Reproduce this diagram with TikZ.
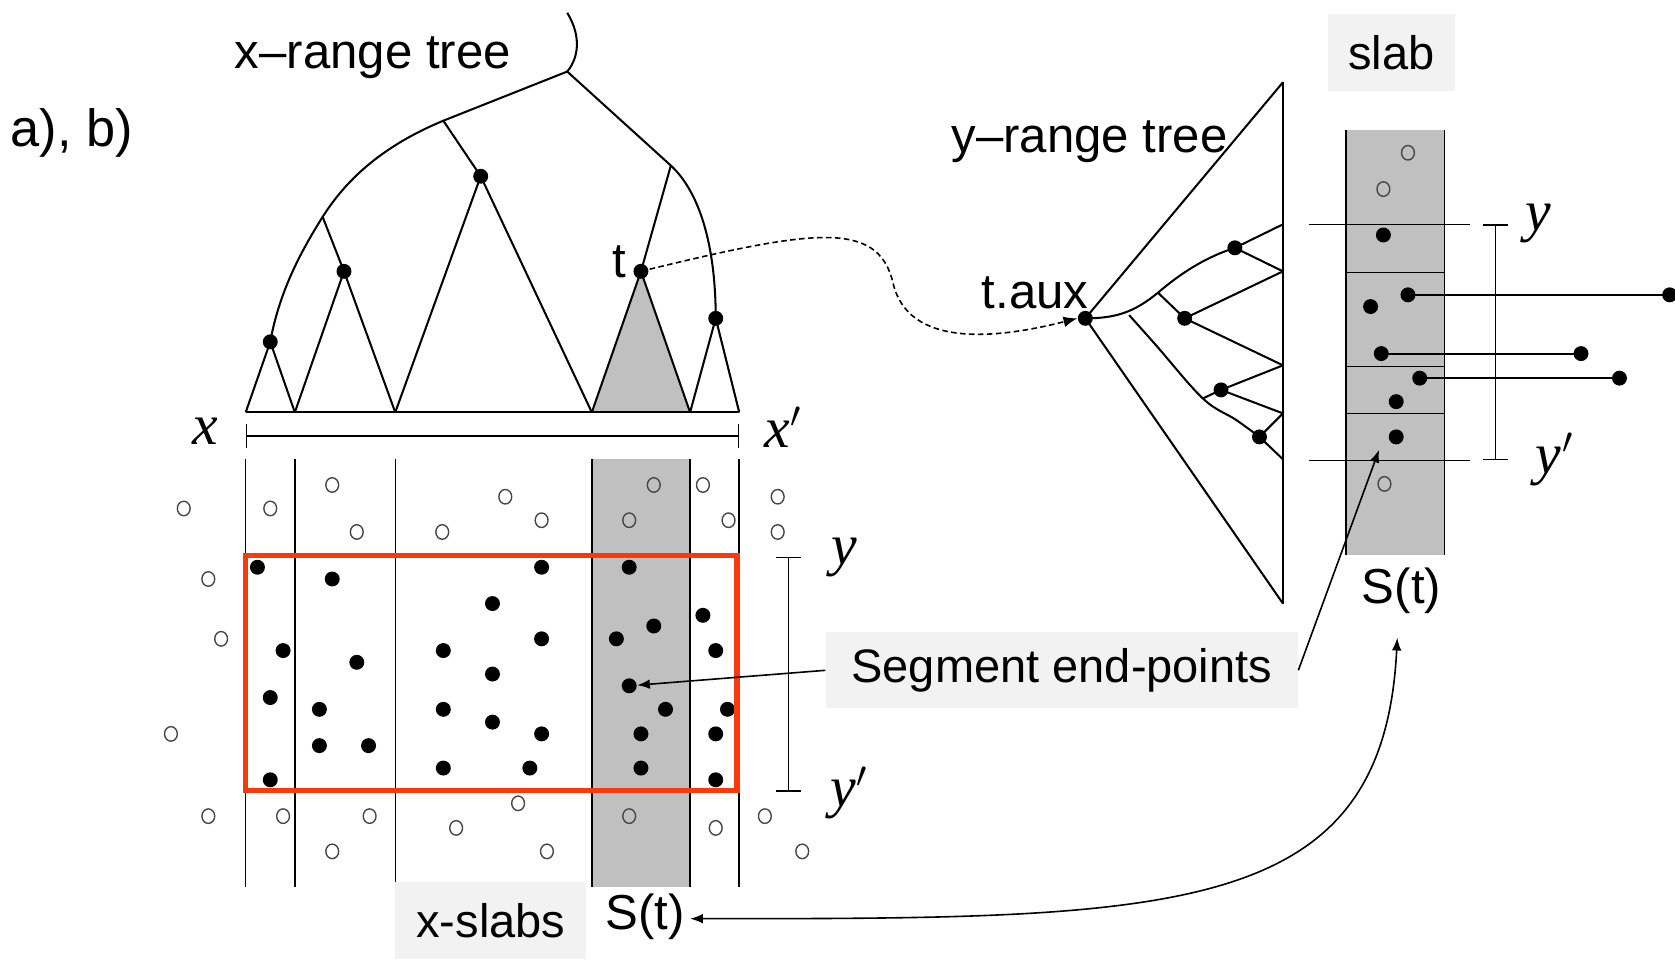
\documentclass[tikz,border=0pt]{standalone}
\usepackage{fontspec}
\setmainfont{Liberation Sans}
\newfontfamily\mfont{Liberation Serif}
\usetikzlibrary{arrows.meta,shapes.geometric}
\definecolor{slabgray}{RGB}{192,192,192}
\definecolor{boxgray}{RGB}{242,242,242}
\definecolor{boxred}{RGB}{250,58,12}
\definecolor{ringgray}{RGB}{70,70,70}
\newcommand{\mvar}[1]{{\mfont\itshape #1}}
\newcommand{\mvarp}[1]{{\mfont\itshape #1}\kern0.5pt$^{\prime}$}
\begin{document}
\begin{tikzpicture}[x=0.5pt,y=-0.5pt,
  tree/.style={line width=0.95pt},
  vline/.style={line width=0.7pt},
  fdot/.style={circle,fill=black,inner sep=0pt,minimum size=7pt},
  odot/.style={ellipse,draw=ringgray,line width=0.65pt,inner sep=0pt,minimum width=6pt,minimum height=6.8pt},
  lbl/.style={font=\fontsize{23}{26}\selectfont,inner sep=0pt},
  gbox/.style={fill=boxgray,font=\fontsize{22}{26}\selectfont,inner sep=0pt},
  mth/.style={font=\fontsize{27}{28}\selectfont,inner sep=0pt},
  arr/.style={line width=0.75pt,-{Latex[length=6pt,width=4.5pt]}},
  brk/.style={line width=0.7pt,{Bar[width=11.5pt]}-{Bar[width=11.5pt]}},
]
\useasboundingbox (0,0) rectangle (1568,898);

% ---------- labels ----------
\node[lbl,font=\fontsize{24.5}{27}\selectfont] (ab) at (67,124) {a), b)};
\node[lbl] (xrt) at (349,54) {x–range tree};
\node[lbl] (yrt) at (1020,133) {y–range tree};
\node[lbl] (tauxl) at (969,274) {t.aux};
\node[lbl] (tl) at (580,245) {t};
\node[gbox,minimum width=59.5pt,minimum height=36pt] (slab) at (1302.5,49) {slab};

% ---------- x-range tree ----------
\coordinate (rtop) at (531,12);
\coordinate (root) at (531,67);
\coordinate (L1) at (415,113);
\coordinate (L2) at (302,203);
\coordinate (R1) at (628,155);
\coordinate (b1) at (230,386);
\coordinate (b2) at (276,386);
\coordinate (b3) at (370,386);
\coordinate (b4) at (554,386);
\coordinate (b5) at (646,386);
\coordinate (b6) at (692,386);
\fill[slabgray] (600,254) -- (b4) -- (b5) -- cycle;
\node[fdot] (d1) at (253,320) {};
\node[fdot] (d2) at (322,254) {};
\node[fdot] (d3) at (450,165) {};
\node[fdot] (t) at (600,254) {};
\node[fdot] (d5) at (670,298) {};
\draw[tree] (rtop) .. controls (545,35) and (541,55) .. (root);
\draw[tree] (root) -- (L1) .. controls (350,140) and (320,175) .. (L2)
  .. controls (284,232) and (262,270) .. (d1.center) -- (b1);
\draw[tree] (root) -- (R1) .. controls (655,180) and (670,230) .. (d5.center);
\draw[tree] (d1.center) -- (b2);
\draw[tree] (L2) -- (d2.center) -- (b2) (d2.center) -- (b3);
\draw[tree] (L1) -- (d3.center) -- (b3) (d3.center) -- (b4);
\draw[tree] (R1) -- (t.center) -- (b4) (t.center) -- (b5);
\draw[tree] (d5.center) -- (b5) (d5.center) -- (b6);
\draw[tree] (b1) -- (b6);

% x range bar
\coordinate (xbL) at (230,408);
\coordinate (xbR) at (692,408);
\draw[brk] (xbL) -- (xbR);
\node[mth] (lx) at (192,404) {\mvar{x}};
\node[mth] (lxp) at (733,400) {\mvarp{x}};

% ---------- x-slabs ----------
\fill[slabgray] (554,430) rectangle (646,830);
\foreach \x in {230,276,370,554,646,692} \draw[vline] (\x,430) -- (\x,830);

% open points
\foreach \p [count=\i] in {(172,476),(253,476),(311,454),(334,498),(414,498),(473,465),(507,487),(612,454),(589,487),(658,454),(682,487),(728,465),(728,498),(195,542),(207,598),(160,687),(195,764),(265,764),(346,764),(311,797),(427,775),(485,752),(512,797),(589,764),(670,775),(716,764),(751,797)}
  \node[odot] (o\i) at \p {};

% filled points
\foreach \p [count=\i] in {(241,531),(311,542),(265,609),(334,620),(253,653),(299,664),(299,698),(345,698),(253,730),(507,531),(461,565),(507,598),(415,609),(461,631),(415,664),(461,676),(507,687),(415,719),(496,719),(589,531),(612,586),(577,598),(623,664),(600,687),(600,719),(658,576),(670,609),(681,664),(670,687),(670,730)}
  \node[fdot] (f\i) at \p {};
\node[fdot] (sdot) at (589,642) {};

\draw[boxred,line width=2.5pt] (230,520) rectangle (690,740);

% y bracket
\draw[brk] (738,521) -- (738,741);
\node[mth] (ly1) at (790,522) {\mvar{y}};
\node[mth] (ly2) at (795,742) {\mvarp{y}};

% ---------- y-range tree ----------
\coordinate (Vt) at (1201,77);
\coordinate (Vb) at (1201,565);
\coordinate (v1) at (1201,210);
\coordinate (v2) at (1201,254);
\coordinate (v3) at (1201,342);
\coordinate (v4) at (1201,387);
\coordinate (v5) at (1201,430);
\coordinate (s1) at (1057,295);
\coordinate (s2) at (1084,274);
\coordinate (s3) at (1126,373);
\node[fdot] (taux) at (1016,298) {};
\node[fdot] (e1) at (1156,232) {};
\node[fdot] (e2) at (1109,298) {};
\node[fdot] (e3) at (1143,365) {};
\node[fdot] (e4) at (1179,409) {};
\draw[tree] (Vt) -- (Vb);
\draw[tree] (Vt) -- (taux.center) -- (Vb);
\draw[tree] (taux.center) .. controls (1045,298) and (1062,292) .. (s2)
  .. controls (1105,256) and (1128,241) .. (e1.center);
\draw[tree] plot[smooth,tension=0.6] coordinates {(1057,295) (1082,323) (1126,373) (1157,393) (1179,409)};
\draw[tree] (e1.center) -- (v1) (e1.center) -- (v2);
\draw[tree] (s2) -- (e2.center) -- (v2) (e2.center) -- (v3);
\draw[tree] (s3) -- (e3.center) -- (v3) (e3.center) -- (v4);
\draw[tree] (e4.center) -- (v4) (e4.center) -- (v5);

% dashed link t -> t.aux
\draw[line width=0.75pt,dash pattern=on 2.6pt off 1.6pt,-{Latex[length=6.5pt,width=5pt]}]
  (t.center) .. controls (760,215) and (822,205) .. (836,265)
  .. controls (850,325) and (930,318) .. (taux.west);

% ---------- right slab ----------
\fill[slabgray] (1260,122) rectangle (1352,520);
\draw[vline] (1260,122) -- (1260,520);
\draw[vline] (1352,122) -- (1352,520);
\foreach \yy in {255,343,387} \draw[vline] (1260,\yy) -- (1352,\yy);
\coordinate (hyA) at (1225,210);
\coordinate (hyB) at (1376,210);
\coordinate (hpA) at (1225,431);
\coordinate (hpB) at (1376,431);
\draw[vline] (hyA) -- (hyB);
\draw[vline] (hpA) -- (hpB);
\draw[brk] (1400,210) -- (1400,431);
\node[mth] (ry1) at (1440,209) {\mvar{y}};
\node[mth] (ry2) at (1455,430) {\mvarp{y}};

\node[odot] (ro1) at (1318,143) {};
\node[odot] (ro2) at (1295,177) {};
\node[odot] (ro3) at (1296,453) {};
\node[fdot] (r1) at (1295,220) {};
\node[fdot] (r2) at (1318,276) {};
\node[fdot] (r3) at (1283,287) {};
\node[fdot] (r4) at (1293,331) {};
\node[fdot] (r5) at (1329,354) {};
\node[fdot] (r6) at (1307,376) {};
\node[fdot] (r7) at (1307,409) {};
\node[fdot] (q1) at (1563,276) {};
\node[fdot] (q2) at (1480,331) {};
\node[fdot] (q3) at (1516,354) {};
\draw[tree] (r2.center) -- (q1.center);
\draw[tree] (r4.center) -- (q2.center);
\draw[tree] (r5.center) -- (q3.center);

\node[lbl] (st2) at (1312,553) {S(t)};

% ---------- bottom labels ----------
\node[gbox,minimum width=89.5pt,minimum height=36pt] (xs) at (459.5,862) {x-slabs};
\node[lbl] (st1) at (604,858) {S(t)};
\node[gbox,minimum width=221pt,minimum height=35.5pt] (seg) at (994,627.5) {Segment end-points};

% ---------- arrows ----------
\coordinate (segtip) at (1291,421);
\draw[arr] (seg.west) -- (sdot);
\draw[arr] (seg.east) -- (segtip);
\coordinate (stA) at (1308,597);
\coordinate (stB) at (646,860);
\draw[line width=0.75pt,{Latex[length=6pt,width=4.5pt]}-{Latex[length=6pt,width=4.5pt]}]
  (stA) .. controls (1295,860) and (1100,860) .. (stB);
\end{tikzpicture}
\end{document}
